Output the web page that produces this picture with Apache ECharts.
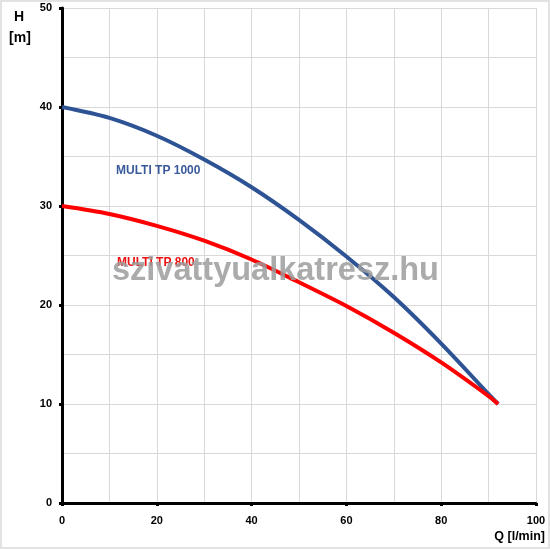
<!DOCTYPE html>
<html>
<head>
<meta charset="utf-8">
<script src="https://cdn.jsdelivr.net/npm/echarts@6/dist/echarts.min.js"></script>
<style>
  html, body { margin: 0; padding: 0; background: #fff; }
  #chart { width: 550px; height: 550px; }
</style>
</head>
<body>
<div id="chart"></div>
<script>
// flow Q [l/min]
const flow = [0, 10, 20, 30, 40, 50, 60, 70, 80, 90, 92];
// head H [m]
const tp1000 = [40, 38.9, 37.1, 34.7, 31.9, 28.6, 24.9, 20.8, 16.1, 11.0, 10];
const tp800 = [30, 29.2, 28.0, 26.5, 24.6, 22.3, 19.9, 17.2, 14.2, 10.8, 10];

const seriesNames = ['MULTI TP 1000', 'MULTI TP 800'];
const seriesColors = ['#2e5395', '#ff0000'];

const pairs = (ys) => flow.map((q, i) => [q, ys[i]]);

let myChart = echarts.init(document.getElementById('chart'));

const tickFont = {
  color: '#000',
  fontFamily: 'Liberation Sans',
  fontWeight: 'bold',
  fontSize: 11
};
const gridLine = { show: true, lineStyle: { color: '#d9d9d9', width: 1 } };
const blackLine = { color: '#000', width: 3 };

const option = {
  animation: false,
  backgroundColor: '#fff',
  grid: { left: 62, right: 14, top: 8, bottom: 47 },
  xAxis: {
    type: 'value',
    min: 0, max: 100, interval: 20,
    axisLine: { show: true, lineStyle: blackLine },
    axisTick: { show: true, length: 3, lineStyle: blackLine },
    axisLabel: Object.assign({ margin: 12 }, tickFont),
    splitLine: gridLine,
    minorTick: { show: false, splitNumber: 2 },
    minorSplitLine: gridLine
  },
  yAxis: {
    type: 'value',
    min: 0, max: 50, interval: 10,
    axisLine: { show: true, lineStyle: blackLine },
    axisTick: { show: true, length: 3, lineStyle: blackLine },
    axisLabel: Object.assign({ margin: 10 }, tickFont),
    splitLine: gridLine,
    minorTick: { show: false, splitNumber: 2 },
    minorSplitLine: gridLine
  },
  series: [
    {
      name: seriesNames[0], type: 'line', smooth: 0.3,
      showSymbol: false, data: pairs(tp1000), z: 3,
      lineStyle: { color: seriesColors[0], width: 4 }
    },
    {
      name: seriesNames[1], type: 'line', smooth: 0.3,
      showSymbol: false, data: pairs(tp800), z: 4,
      lineStyle: { color: seriesColors[1], width: 4 }
    }
  ],
  graphic: [
    {
      type: 'rect', z: 0, silent: true,
      shape: { x: 1, y: 1, width: 548, height: 547 },
      style: { fill: null, stroke: '#e2e2e2', lineWidth: 2 }
    },
    {
      type: 'text', x: 19, y: 17, z: 10,
      style: {
        text: 'H', align: 'center', verticalAlign: 'middle',
        fontFamily: 'Liberation Sans', fontWeight: 'bold', fontSize: 14, fill: '#000'
      }
    },
    {
      type: 'text', x: 20, y: 38, z: 10,
      style: {
        text: '[m]', align: 'center', verticalAlign: 'middle',
        fontFamily: 'Liberation Sans', fontWeight: 'bold', fontSize: 14, fill: '#000'
      }
    },
    {
      type: 'text', x: 545, y: 537, z: 10,
      style: {
        text: 'Q [l/min]', align: 'right', verticalAlign: 'middle',
        fontFamily: 'Liberation Sans', fontWeight: 'bold', fontSize: 12.5, fill: '#000'
      }
    },
    {
      type: 'text', x: 116, y: 171, z: 10,
      style: {
        text: seriesNames[0], verticalAlign: 'middle',
        fontFamily: 'Liberation Sans', fontWeight: 'bold', fontSize: 12, fill: '#3a5a9c'
      }
    },
    {
      type: 'text', x: 117, y: 263, z: 10,
      style: {
        text: seriesNames[1], verticalAlign: 'middle',
        fontFamily: 'Liberation Sans', fontWeight: 'bold', fontSize: 12, fill: '#ee1111'
      }
    },
    {
      type: 'text', x: 112, y: 271, z: 20, silent: true,
      style: {
        text: 'szivattyualkatresz.hu', verticalAlign: 'middle',
        fontFamily: 'Liberation Sans', fontWeight: 'bold', fontSize: 32.5,
        fill: '#9c9c9c', opacity: 0.85
      }
    }
  ]
};

myChart.setOption(option);
</script>
</body>
</html>
